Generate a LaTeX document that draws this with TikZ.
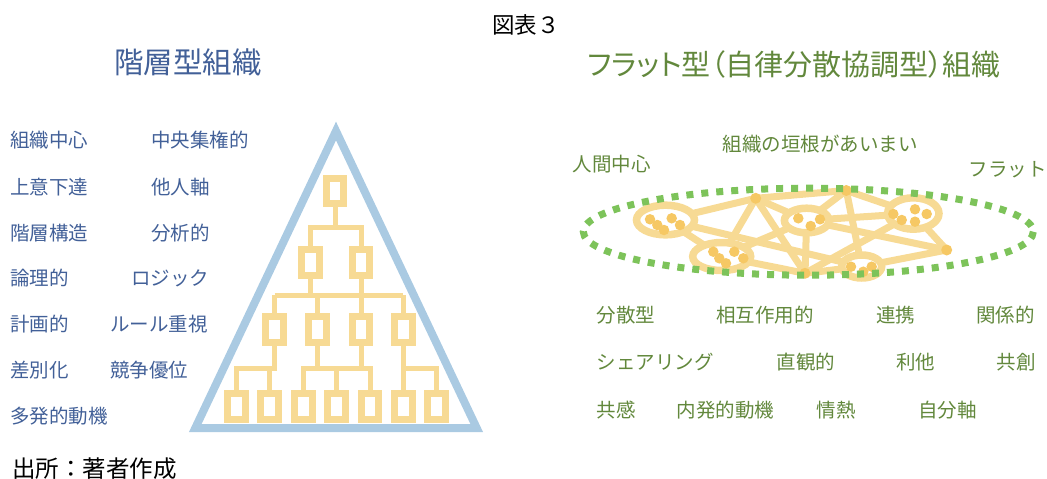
\documentclass[tikz,border=0pt]{standalone}
\usepackage{fontspec}
\setmainfont{Noto Sans CJK JP}
\usetikzlibrary{shapes.geometric}
\definecolor{blueT}{RGB}{66,96,152}
\definecolor{greenT}{RGB}{98,136,60}
\definecolor{triblue}{RGB}{170,202,226}
\definecolor{yel}{RGB}{247,218,148}
\definecolor{dyel}{RGB}{246,200,100}
\definecolor{gdot}{RGB}{125,195,90}
\begin{document}
\begin{tikzpicture}[x=1pt,y=-1pt,
  lbl/.style={anchor=west,inner sep=0pt,font=\fontsize{19.5}{22}\selectfont},
  bl/.style={lbl,text=blueT},
  gl/.style={lbl,text=greenT},
  obox/.style={draw=yel,line width=7pt,minimum width=17.5pt,minimum height=25.5pt,inner sep=0pt,fill=white},
  conn/.style={draw=yel,line width=5pt},
  ell/.style={ellipse,draw=yel,line width=7.5pt,fill=white,inner sep=0pt},
  sdot/.style={circle,fill=dyel,minimum size=10.5pt,inner sep=0pt},
  net/.style={draw=yel,line width=7pt,line cap=round},
]
\useasboundingbox (0,0) rectangle (1047,479);
% titles
\node[inner sep=0pt,font=\fontsize{22.5}{26}\selectfont] (fig) at (526,25) {図表３};
\node[inner sep=0pt,text=blueT,font=\fontsize{29.5}{32}\selectfont] (tl) at (188,62) {階層型組織};
\node[inner sep=0pt,text=greenT,font=\fontsize{29}{32}\selectfont\addfontfeatures{RawFeature=+palt}] (tr) at (794,64) {フラット型（自律分散協調型）組織};
% left labels
\node[bl] (l1) at (10,140) {組織中心};
\node[bl] (l2) at (10,187) {上意下達};
\node[bl] (l3) at (10,233) {階層構造};
\node[bl] (l4) at (10,278) {論理的};
\node[bl] (l5) at (10,324) {計画的};
\node[bl] (l6) at (10,370) {差別化};
\node[bl] (l7) at (10,416) {多発的動機};
\node[bl] (r1) at (151,140) {中央集権的};
\node[bl] (r2) at (151,187) {他人軸};
\node[bl] (r3) at (151,233) {分析的};
\node[bl] (r4) at (131,278) {ロジック};
\node[bl] (r5) at (110,324) {ルール重視};
\node[bl] (r6) at (110,370) {競争優位};
% triangle
\draw[draw=triblue,line width=8pt,line join=miter] (336,131) -- (195.3,428) -- (476.7,428) -- cycle;
% org chart
\coordinate (bar1) at (0,227.5);
\coordinate (bar2) at (0,295);
\coordinate (bar3) at (0,368.3);
\node[obox] (t) at (335,190.8) {};
\node[obox] (a1) at (310.5,262.3) {};
\node[obox] (a2) at (361.2,262.3) {};
\node[obox] (b1) at (274.7,329.7) {};
\node[obox] (b2) at (317.5,329.7) {};
\node[obox] (b3) at (361,329.7) {};
\node[obox] (b4) at (403.3,329.7) {};
\foreach \i/\x in {1/236.7,2/269.7,3/303.3,4/336.7,5/370,6/403.3,7/436.7}
  \node[obox] (c\i) at (\x,406.7) {};
\draw[conn] (t.south) -- (t.south |- bar1);
\draw[conn] (a1.north) -- (a1.north |- bar1) -- (a2.north |- bar1) -- (a2.north);
\draw[conn] (a1.south) -- (a1.south |- bar2);
\draw[conn] (a2.south) -- (a2.south |- bar2);
\draw[conn] (b1.north |- bar2) -- (b4.north |- bar2);
\foreach \b in {b1,b2,b3,b4} \draw[conn] (\b.north) -- (\b.north |- bar2);
\draw[conn] (b1.south) -- (b1.south |- bar3) -- (c1.north |- bar3) -- (c1.north);
\draw[conn] (c2.north) -- (c2.north |- bar3);
\draw[conn] (b2.south) -- (b2.south |- bar3);
\draw[conn] (b3.south) -- (b3.south |- bar3);
\draw[conn] (c3.north) -- (c3.north |- bar3) -- (c5.north |- bar3) -- (c5.north);
\draw[conn] (c4.north) -- (c4.north |- bar3);
\draw[conn] (b4.south) -- (b4.south |- bar3) -- (c7.north |- bar3) -- (c7.north);
\draw[conn] (c6.north) -- (c6.north |- bar3);
% network
\coordinate (A) at (665.5,220);
\coordinate (B) at (721.7,256.5);
\coordinate (C) at (806.7,220.5);
\coordinate (D) at (913.3,213.5);
\coordinate (E) at (861.7,266.5);
\coordinate (P1) at (755.7,198.3);
\coordinate (P2) at (846.3,190.5);
\coordinate (P3) at (946.7,250);
\coordinate (P4) at (805,273.3);
\foreach \u/\v in {A/P1,A/B,A/E,P1/P2,P1/B,P1/P4,P1/C,B/C,B/P4,C/P4,C/P2,C/D,C/P3,P2/D,P2/E,D/P3,D/P4,E/P3,P4/E}
  \draw[net] (\u) -- (\v);
\node[ell,minimum width=58pt,minimum height=29.6pt] (eA) at (A) {};
\node[ell,minimum width=58pt,minimum height=28pt] (eB) at (B) {};
\node[ell,minimum width=44.6pt,minimum height=24.6pt] (eC) at (C) {};
\node[ell,minimum width=51.4pt,minimum height=31.4pt] (eD) at (D) {};
\node[ell,minimum width=40pt,minimum height=23pt] (eE) at (E) {};
\foreach \n/\x/\y in {a1/650/219.3,a2/657.3/225,a3/664/230,a4/671.7/218.3,a5/680/225,
  bb1/713.3/251.7,bb2/719.3/258.3,bb3/726/263.3,bb4/734.3/251.7,bb5/743.3/258.3,
  cc1/798.3/218.3,cc2/810.7/226,cc3/820/219.3,
  d1/893.3/214,d2/901.7/220,d3/915/209.3,d4/915/221.7,d5/926.7/214,
  e1/851/266.7,e2/863.3/271.7,e3/871.7/266.7}
  \node[sdot] (\n) at (\x,\y) {};
\foreach \p in {P1,P2,P3,P4} \node[sdot,minimum size=11pt] (n\p) at (\p) {};
\draw[draw=gdot,line width=7pt,dash pattern=on 7pt off 8pt] (808.3,231.7) ellipse [x radius=225, y radius=43.5];
% right labels
\node[gl] (g0) at (572.5,164.3) {人間中心};
\node[gl] (g1) at (722.5,144) {組織の垣根があいまい};
\node[gl] (g2) at (968.5,170) {フラット};
\node[gl] (s1) at (596.5,315) {分散型};
\node[gl] (s2) at (716,315) {相互作用的};
\node[gl] (s3) at (876,315) {連携};
\node[gl] (s4) at (976,315) {関係的};
\node[gl] (s5) at (596.5,362) {シェアリング};
\node[gl] (s6) at (776.5,362) {直観的};
\node[gl] (s7) at (896,362) {利他};
\node[gl] (s8) at (996.5,362) {共創};
\node[gl] (s9) at (596.5,410) {共感};
\node[gl] (s10) at (676.5,410) {内発的動機};
\node[gl] (s11) at (816.5,410) {情熱};
\node[gl] (s12) at (918,410) {自分軸};
% footer
\node[anchor=west,inner sep=0pt,font=\fontsize{23.5}{26}\selectfont] (src) at (12,469) {出所：著者作成};
\end{tikzpicture}
\end{document}
